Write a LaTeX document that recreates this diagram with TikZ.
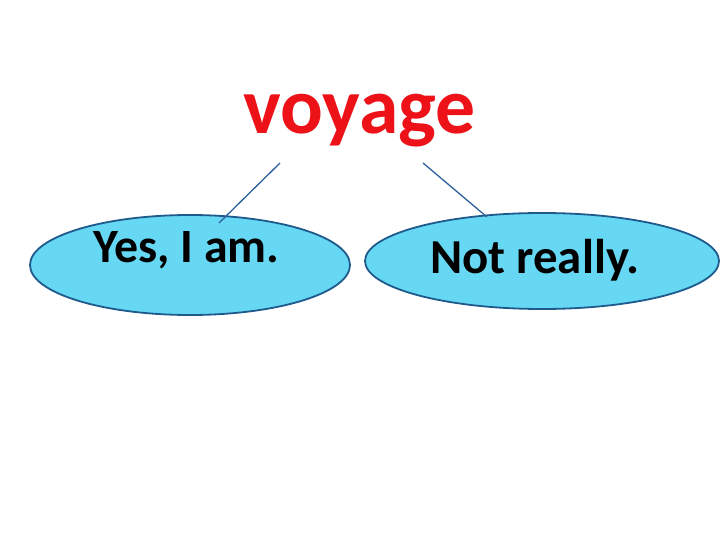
\documentclass[tikz,border=0pt]{standalone}
\usepackage{fontspec}
\setmainfont{Carlito}
\usetikzlibrary{shapes.geometric}
\definecolor{wordred}{HTML}{EC1218}
\definecolor{ellfill}{HTML}{66D8F4}
\definecolor{ellline}{HTML}{1F5A8C}
\definecolor{conn}{HTML}{2E5F9E}
\tikzset{
  bubble/.style={ellipse, draw=ellline, line width=1.8bp, fill=ellfill, inner sep=0pt},
  answer/.style={anchor=base west, inner sep=0pt, font=\fontsize{48}{52}\selectfont\bfseries, text=black},
  link/.style={draw=conn, line width=1.3bp}
}
\begin{document}
\begin{tikzpicture}[x=1bp,y=-1bp]
\useasboundingbox (0,0) rectangle (720,540);
\fill[white] (0,0) rectangle (720,540);
\node[bubble, minimum width=320bp, minimum height=100bp] (left) at (190,265) {};
\node[bubble, minimum width=354bp, minimum height=96bp] (right) at (542,261) {};
\node[anchor=base west, inner sep=0pt, text=wordred, font=\fontsize{80}{86}\selectfont\bfseries] (word) at (243,134) {voyage};
\node[answer] (yes) at (93,263) {Yes, I am.};
\node[answer, font=\fontsize{49}{53}\selectfont\bfseries] (not) at (430,274) {Not really.};
\coordinate (wl) at (280,163);
\coordinate (wr) at (423,163);
\coordinate (el) at (219,223);
\coordinate (er) at (487,217);
\draw[link] (wl) -- (el);
\draw[link] (wr) -- (er);
\end{tikzpicture}
\end{document}
